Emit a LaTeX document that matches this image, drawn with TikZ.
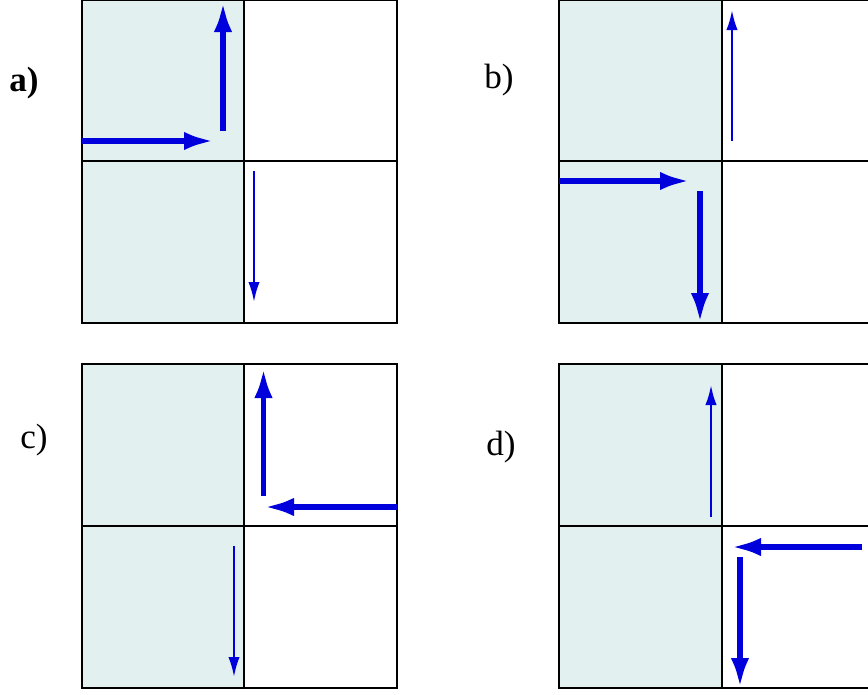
\documentclass[tikz,border=0pt]{standalone}
\usepackage{fontspec}
\setmainfont{Liberation Serif}
\usepackage{xcolor}
\definecolor{paleteal}{RGB}{226, 240, 240}
\definecolor{arrowblue}{RGB}{0, 0, 220}
\usepackage{tikz}
\usetikzlibrary{arrows.meta, positioning}

\begin{document}
\begin{tikzpicture}[
    x=0.03cm, y=-0.03cm,
    cell/.style={draw=black, line width=1.1pt},
    lightcell/.style={fill=paleteal},
    fat/.style={draw=arrowblue, line width=5pt, -{Latex[length=0.9cm, width=0.55cm]}},
    slim/.style={draw=arrowblue, line width=2pt, -{Latex[length=0.6cm, width=0.34cm]}},
    lbl/.style={font=\fontsize{30}{34}\selectfont}
]
\clip (0,0) rectangle (868,694);

% ==================== PANEL A ====================
\fill[lightcell] (82,0) rectangle (244,323);
\draw[cell] (82,0) rectangle (397,323);
\draw[cell] (244,0) -- (244,323);
\draw[cell] (82,161) -- (397,161);
\node[lbl, font=\fontsize{30}{34}\selectfont\bfseries] (lab_a) at (24,83) {a)};

\coordinate (a_in)    at (82,141);
\coordinate (a_stop)  at (214,141);
\coordinate (a_up0)   at (223,131);
\coordinate (a_up1)   at (223,2);
\coordinate (a_dn0)   at (254,171);
\coordinate (a_dn1)   at (254,302);

\draw[fat]  (a_in) -- (a_stop);
\draw[fat]  (a_up0) -- (a_up1);
\draw[slim] (a_dn0) -- (a_dn1);

% ==================== PANEL B ====================
\fill[lightcell] (559,0) rectangle (722,323);
\draw[cell] (559,0) rectangle (885,323);
\draw[cell] (722,0) -- (722,323);
\draw[cell] (559,161) -- (885,161);
\node[lbl] (lab_b) at (499,80) {b)};

\coordinate (b_up0)   at (732,141);
\coordinate (b_up1)   at (732,10);
\coordinate (b_in)    at (559,181);
\coordinate (b_stop)  at (690,181);
\coordinate (b_dn0)   at (700,191);
\coordinate (b_dn1)   at (700,323);

\draw[slim] (b_up0) -- (b_up1);
\draw[fat]  (b_in) -- (b_stop);
\draw[fat]  (b_dn0) -- (b_dn1);

% ==================== PANEL C ====================
\fill[lightcell] (82,364) rectangle (244,688);
\draw[cell] (82,364) rectangle (397,688);
\draw[cell] (244,364) -- (244,688);
\draw[cell] (82,526) -- (397,526);
\node[lbl] (lab_c) at (34,440) {c)};

\coordinate (c_up0)   at (263.5,496);
\coordinate (c_up1)   at (263.5,368);
\coordinate (c_in)    at (397,507);
\coordinate (c_stop)  at (264,507);
\coordinate (c_dn0)   at (234,546);
\coordinate (c_dn1)   at (234,677);

\draw[fat]  (c_up0) -- (c_up1);
\draw[fat]  (c_in) -- (c_stop);
\draw[slim] (c_dn0) -- (c_dn1);

% ==================== PANEL D ====================
\fill[lightcell] (559,364) rectangle (722,688);
\draw[cell] (559,364) rectangle (885,688);
\draw[cell] (722,364) -- (722,688);
\draw[cell] (559,526) -- (885,526);
\node[lbl] (lab_d) at (501,447) {d)};

\coordinate (d_up0)   at (711,517);
\coordinate (d_up1)   at (711,385);
\coordinate (d_in)    at (862,547);
\coordinate (d_stop)  at (731,547);
\coordinate (d_dn0)   at (740,557);
\coordinate (d_dn1)   at (740,688);

\draw[slim] (d_up0) -- (d_up1);
\draw[fat]  (d_in) -- (d_stop);
\draw[fat]  (d_dn0) -- (d_dn1);

\end{tikzpicture}
\end{document}
